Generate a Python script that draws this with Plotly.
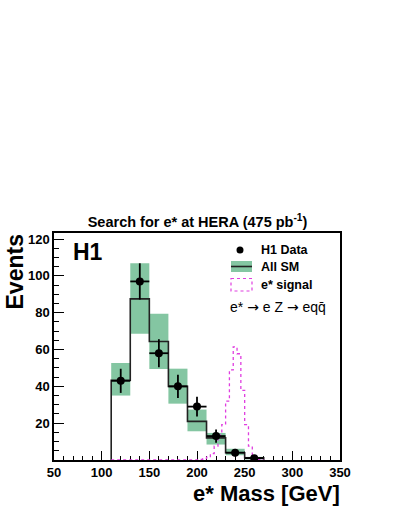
# H1 excited electron search: e* -> eZ -> eqq mass spectrum

import numpy as np
import plotly.graph_objects as go

# SM / data histogram, 20 GeV bins
bin_lo = [110, 130, 150, 170, 190, 210, 230, 250]
bin_width = 20
sm_values = [43.3, 87.5, 64.4, 40.0, 21.0, 12.0, 3.9, 1.2]
sm_band_lo = [35.0, 68.6, 49.4, 30.6, 15.6, 8.4, 2.6, 0.3]
sm_band_hi = [52.7, 106.9, 79.4, 49.6, 27.4, 14.7, 6.1, 1.7]
data_values = [43, 97, 58, 40, 29, 13, 4, 1]

# e* signal, 4 GeV bins starting at 110 GeV
sig_start = 110
sig_width = 4
sig_values = [0] * 23 + [
    0.3, 0.8, 1.5, 3.5, 7.5, 13.8, 19.2, 32.0, 49.0, 61.5,
    57.7, 37.8, 19.2, 7.5, 1.7, 0.3, 0,
]

x_ticks = [50, 100, 150, 200, 250, 300, 350]
y_ticks = [20, 40, 60, 80, 100, 120]

FONT = "Liberation Sans, Arial, sans-serif"
GREEN = "#84c6a2"
PINK = "#e03ee0"

# plot area in pixels (used for annotations/legend placement)
L, R, T, B = 54, 340, 233, 460


def px2x(px):
    return (px - L) / (R - L)


def px2y(py):
    return (B - py) / (B - T)


def step_xy(start, width, values):
    edges = [start + width * i for i in range(len(values) + 1)]
    xs = [edges[0]] + edges
    ys = [0] + list(values) + [0]
    return xs, ys


bin_lo = np.array(bin_lo)
centers = bin_lo + bin_width / 2

fig = go.Figure()

# SM uncertainty band
fig.add_trace(
    go.Bar(
        x=centers,
        y=np.array(sm_band_hi) - np.array(sm_band_lo),
        base=sm_band_lo,
        width=bin_width,
        marker=dict(color=GREEN, line=dict(width=0)),
        showlegend=False,
    )
)

# SM histogram
sx, sy = step_xy(bin_lo[0], bin_width, sm_values)
fig.add_trace(
    go.Scatter(
        x=sx, y=sy, mode="lines", line=dict(color="#222", width=1.6, shape="hv"),
        showlegend=False,
    )
)

# signal histogram
gx, gy = step_xy(sig_start, sig_width, sig_values)
fig.add_trace(
    go.Scatter(
        x=gx, y=gy, mode="lines",
        line=dict(color=PINK, width=1.3, dash="dot", shape="hv"),
        showlegend=False,
    )
)

# data
fig.add_trace(
    go.Scatter(
        x=centers,
        y=data_values,
        mode="markers",
        marker=dict(color="black", size=8),
        error_y=dict(type="data", array=np.sqrt(data_values), color="black",
                     thickness=1.8, width=0),
        error_x=dict(type="constant", value=bin_width / 2, color="black",
                     thickness=1.8, width=0),
        showlegend=False,
    )
)

fig.update_layout(
    width=395,
    height=511,
    margin=dict(l=L, r=395 - R, t=T, b=511 - B),
    paper_bgcolor="white",
    plot_bgcolor="white",
    barmode="overlay",
    font=dict(family=FONT, color="black"),
    title=dict(
        text="<b>Search for e* at HERA (475 pb<sup>-1</sup>)</b>",
        x=0.5, xanchor="center", y=1 - 222 / 511, yanchor="middle",
        font=dict(size=14.5, family=FONT, color="black"),
    ),
)

fig.update_xaxes(
    range=[50, 350],
    tickvals=x_ticks,
    ticks="inside", ticklen=9, tickwidth=1, tickcolor="black",
    minor=dict(dtick=10, ticks="inside", ticklen=4, tickcolor="black"),
    showgrid=False, zeroline=False,
    showline=True, mirror=True, linecolor="black", linewidth=1.5,
    tickfont=dict(size=13, family=FONT, weight="bold"),
    layer="below traces",
)
fig.update_yaxes(
    range=[0, 123.3],
    tickvals=y_ticks,
    ticks="inside", ticklen=10, tickwidth=1, tickcolor="black",
    minor=dict(dtick=5, ticks="inside", ticklen=5, tickcolor="black"),
    showgrid=False, zeroline=False,
    showline=True, mirror=True, linecolor="black", linewidth=1.5,
    tickfont=dict(size=13, family=FONT, weight="bold"),
    layer="below traces",
)

ann = dict(xref="paper", yref="paper", showarrow=False)

# axis titles
fig.add_annotation(
    text="<b>Events</b>", x=px2x(14), y=1.0, xanchor="center", yanchor="top",
    textangle=-90, font=dict(size=23, family=FONT), **ann
)
fig.add_annotation(
    text="<b>e* Mass [GeV]</b>", x=px2x(342), y=px2y(493), xanchor="right",
    yanchor="middle", font=dict(size=22, family=FONT), **ann
)
fig.add_annotation(
    text="<b>H1</b>", x=px2x(88), y=px2y(252), xanchor="center",
    yanchor="middle", font=dict(size=23, family=FONT), **ann
)

# legend (drawn by hand, ROOT style)
fig.add_shape(
    type="circle", xref="paper", yref="paper",
    x0=px2x(236.5), x1=px2x(243.5), y0=px2y(246.5), y1=px2y(253.5),
    fillcolor="black", line=dict(width=0),
)
fig.add_shape(
    type="rect", xref="paper", yref="paper",
    x0=px2x(231), x1=px2x(252), y0=px2y(261), y1=px2y(272),
    fillcolor=GREEN, line=dict(width=0),
)
fig.add_shape(
    type="line", xref="paper", yref="paper",
    x0=px2x(231), x1=px2x(252), y0=px2y(266.5), y1=px2y(266.5),
    line=dict(color="#222", width=1.6),
)
fig.add_shape(
    type="rect", xref="paper", yref="paper",
    x0=px2x(231), x1=px2x(252), y0=px2y(278.5), y1=px2y(291),
    line=dict(color=PINK, width=1.2, dash="dot"),
)
for label, py in [("H1 Data", 250), ("All SM", 266.5), ("e* signal", 284.5)]:
    fig.add_annotation(
        text="<b>%s</b>" % label, x=px2x(259), y=px2y(py), xanchor="left",
        yanchor="middle", font=dict(size=12.5, family=FONT), **ann
    )
arrow = '<span style="font-family:DejaVu Sans">\u2192</span>'
fig.add_annotation(
    text="e* %s e Z %s eq\u0071\u0304" % (arrow, arrow), x=px2x(277.5), y=px2y(307),
    xanchor="center", yanchor="middle", font=dict(size=14, family=FONT), **ann
)

# no page margin so the figure sits at the window's top-left corner
fig.write_html(
    "out.html",
    config={"displayModeBar": False},
    post_script="document.body.style.margin='0';",
)
